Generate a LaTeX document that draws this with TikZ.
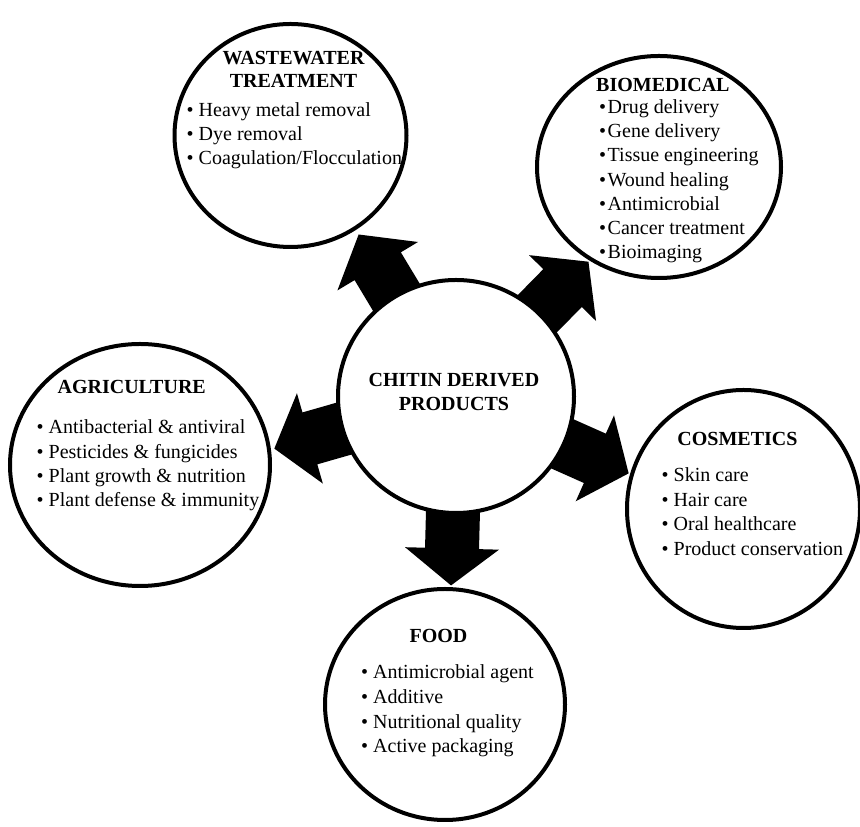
\documentclass[tikz,border=0pt]{standalone}
\usepackage{fontspec}
\setmainfont{Liberation Serif}
\usetikzlibrary{shapes.geometric,backgrounds}

% block arrow radiating from the hub, pointing at angle #1
\newcommand\spokearrow[1]{%
  \begin{scope}[shift={(hub.center)}, rotate=#1]
    \fill[spoke] (189,0) -- (152,47) -- (152,27) -- (80,27) -- (80,-27)
      -- (152,-27) -- (152,-47) -- cycle;
  \end{scope}}

\begin{document}
\begin{tikzpicture}[x=1pt,y=1pt,
  disc/.style={draw=black, line width=4pt, fill=white, ellipse, inner sep=0pt},
  title/.style={inner sep=0pt, font=\bfseries\fontsize{20}{23}\selectfont},
  items/.style={inner sep=0pt, anchor=base west},
  spoke/.style={fill=black}]
\useasboundingbox (0,0) rectangle (860,827);

% circles
\node[disc, minimum width=236pt, minimum height=233pt] (hub) at (456,430.5) {};
\node[disc, minimum width=232pt, minimum height=223pt] (waste) at (290.5,691.5) {};
\node[disc, minimum width=244pt, minimum height=222pt] (biomed) at (659,660) {};
\node[disc, minimum width=260pt, minimum height=242pt] (agri) at (140,362) {};
\node[disc, minimum width=233pt, minimum height=238pt] (cosm) at (743.5,318) {};
\node[disc, minimum width=240pt, minimum height=231pt] (food) at (445,122.5) {};

% arrows from the hub to each application area
\begin{pgfonlayer}{background}
  \spokearrow{121}
  \spokearrow{45.5}
  \spokearrow{196}
  \spokearrow{-24}
  \spokearrow{-91.5}
\end{pgfonlayer}

% hub label
\node[title, anchor=base, font=\bfseries\fontsize{20}{24}\selectfont] (hubtext) at (454,440.3)
  {\begin{tabular}[t]{@{}c@{}}CHITIN DERIVED\\PRODUCTS\end{tabular}};

% wastewater treatment
\node[title, anchor=base] (wastetitle) at (293.5,762)
  {\begin{tabular}[t]{@{}c@{}}WASTEWATER\\TREATMENT\end{tabular}};
\node[items, font=\fontsize{20}{24}\selectfont] (wastelist) at (186.5,710)
  {\begin{tabular}[t]{@{}l@{}}• Heavy metal removal\\• Dye removal\\• Coagulation/Flocculation\end{tabular}};

% biomedical
\node[title, anchor=base west] (biomedtitle) at (596,735.5) {BIOMEDICAL};
\node[items, font=\fontsize{20}{24.2}\selectfont] (biomedlist) at (599,713.5)
  {\begin{tabular}[t]{@{}l@{}}•\hspace{1.5pt}Drug delivery\\•\hspace{1.5pt}Gene delivery\\•\hspace{1.5pt}Tissue engineering\\•\hspace{1.5pt}Wound healing\\•\hspace{1.5pt}Antimicrobial\\•\hspace{1.5pt}Cancer treatment\\•\hspace{1.5pt}Bioimaging\end{tabular}};

% agriculture
\node[title, anchor=base] (agrititle) at (131.7,433) {AGRICULTURE};
\node[items, font=\fontsize{20}{24.3}\selectfont] (agrilist) at (36.5,393)
  {\begin{tabular}[t]{@{}l@{}}• Antibacterial \& antiviral\\• Pesticides \& fungicides\\• Plant growth \& nutrition\\• Plant defense \& immunity\end{tabular}};

% cosmetics
\node[title, anchor=base] (cosmtitle) at (737.5,381) {COSMETICS};
\node[items, font=\fontsize{20}{24.5}\selectfont] (cosmlist) at (661.5,345)
  {\begin{tabular}[t]{@{}l@{}}• Skin care\\• Hair care\\• Oral healthcare\\• Product conservation\end{tabular}};

% food
\node[title, anchor=base] (foodtitle) at (438.5,184) {FOOD};
\node[items, font=\fontsize{20}{24.6}\selectfont] (foodlist) at (361,148)
  {\begin{tabular}[t]{@{}l@{}}• Antimicrobial agent\\• Additive\\• Nutritional quality\\• Active packaging\end{tabular}};
\end{tikzpicture}
\end{document}
